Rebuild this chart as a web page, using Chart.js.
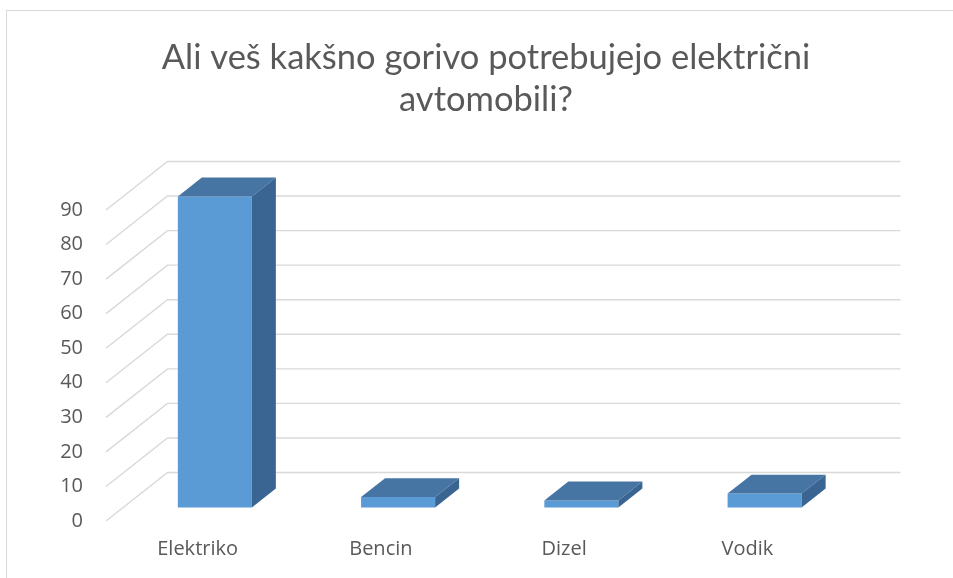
<!DOCTYPE html>
<html>
<head>
<meta charset="utf-8">
<script src="https://cdn.jsdelivr.net/npm/chart.js@4/dist/chart.umd.min.js"></script>
<style>
  html, body { margin: 0; padding: 0; background: #ffffff; }
  #wrap { width: 953px; height: 578px; position: relative; }
</style>
</head>
<body>
<div id="wrap"><canvas id="c" width="953" height="578"></canvas></div>
<script>
// Survey answers: which fuel do electric cars need?
const categories = ['Elektriko', 'Bencin', 'Dizel', 'Vodik'];
const responses = [90, 3, 2, 4];
const yTickValues = [0, 10, 20, 30, 40, 50, 60, 70, 80, 90];
const titleLines = ['Ali veš kakšno gorivo potrebujejo električni', 'avtomobili?'];

// Oblique 3D look: offset of the back wall from the front plane, and where
// the columns sit inside that depth (0 = front, 1 = back wall).
const DEPTH = { dx: 61.5, dy: -48.5 };
const BAR_FRONT = 0.28;
const BAR_BACK = 0.67;
const COLORS = {
  front: '#5B9BD5',
  top: '#4674A3',
  side: '#3A6592',
  grid: '#D9D9D9',
  text: '#595959'
};

function shift(px, py, d) {
  return [px + d * DEPTH.dx, py + d * DEPTH.dy];
}

function fillPoly(ctx, pts, color) {
  ctx.beginPath();
  ctx.moveTo(pts[0][0], pts[0][1]);
  for (let i = 1; i < pts.length; i++) ctx.lineTo(pts[i][0], pts[i][1]);
  ctx.closePath();
  ctx.fillStyle = color;
  ctx.fill();
}

const column3d = {
  id: 'column3d',
  beforeDraw(chart) {
    const ctx = chart.ctx;
    ctx.save();
    ctx.fillStyle = '#ffffff';
    ctx.fillRect(0, 0, chart.width, chart.height);
    ctx.strokeStyle = COLORS.grid;
    ctx.lineWidth = 1;
    ctx.strokeRect(6.5, 10.5, chart.width + 20, chart.height + 20);
    ctx.restore();
  },
  beforeDatasetsDraw(chart) {
    // side wall and back wall gridlines, one per y tick
    const { ctx, chartArea: a, scales: { y } } = chart;
    ctx.save();
    ctx.strokeStyle = COLORS.grid;
    ctx.lineWidth = 1.4;
    y.ticks.forEach(t => {
      const py = y.getPixelForValue(t.value);
      const back = shift(a.left, py, 1);
      const backRight = shift(a.right, py, 1);
      ctx.beginPath();
      ctx.moveTo(a.left, py);
      ctx.lineTo(back[0], back[1]);
      ctx.lineTo(backRight[0], backRight[1]);
      ctx.stroke();
    });
    ctx.restore();
  },
  afterDatasetsDraw(chart) {
    const ctx = chart.ctx;
    const meta = chart.getDatasetMeta(0);
    ctx.save();
    meta.data.forEach(bar => {
      const { x, y, base, width } = bar.getProps(['x', 'y', 'base', 'width'], true);
      const l = x - width / 2, r = x + width / 2;
      const flt = shift(l, y, BAR_FRONT), frt = shift(r, y, BAR_FRONT);
      const frb = shift(r, base, BAR_FRONT), flb = shift(l, base, BAR_FRONT);
      const blt = shift(l, y, BAR_BACK), brt = shift(r, y, BAR_BACK);
      const brb = shift(r, base, BAR_BACK);
      fillPoly(ctx, [flt, frt, frb, flb], COLORS.front);
      fillPoly(ctx, [flt, blt, brt, frt], COLORS.top);
      fillPoly(ctx, [frt, brt, brb, frb], COLORS.side);
    });
    ctx.restore();
  }
};

const tickFont = { family: "'Open Sans', sans-serif", size: 20 };

new Chart(document.getElementById('c'), {
  type: 'bar',
  data: {
    labels: categories,
    datasets: [{
      data: responses,
      backgroundColor: 'rgba(0,0,0,0)',
      borderWidth: 0,
      barPercentage: 0.404,
      categoryPercentage: 1
    }]
  },
  options: {
    responsive: false,
    animation: false,
    events: [],
    layout: { padding: { left: 19, right: 0, top: 0, bottom: 0 } },
    plugins: {
      legend: { display: false },
      tooltip: { enabled: false },
      title: {
        display: true,
        text: titleLines,
        color: COLORS.text,
        font: { family: "Lato, 'Open Sans', sans-serif", size: 34.5, weight: 'normal', lineHeight: 42 / 34.5 },
        padding: { top: 37, bottom: 89 }
      }
    },
    scales: {
      x: {
        type: 'category',
        grid: { display: false, drawTicks: false },
        border: { display: false },
        ticks: { color: COLORS.text, font: tickFont, padding: 16, maxRotation: 0 },
        afterFit(s) { s.height = 57; }
      },
      y: {
        min: 0,
        max: 90,
        afterBuildTicks(s) { s.ticks = yTickValues.map(v => ({ value: v })); },
        grid: { display: false, drawTicks: false },
        border: { display: false },
        ticks: { color: COLORS.text, font: tickFont, padding: 23 },
        afterFit(s) { s.width = 87; }
      },
      yRight: {
        position: 'right',
        display: true,
        grid: { display: false, drawTicks: false },
        border: { display: false },
        ticks: { display: false },
        afterFit(s) { s.width = 114; }
      }
    }
  },
  plugins: [column3d]
});
</script>
</body>
</html>
